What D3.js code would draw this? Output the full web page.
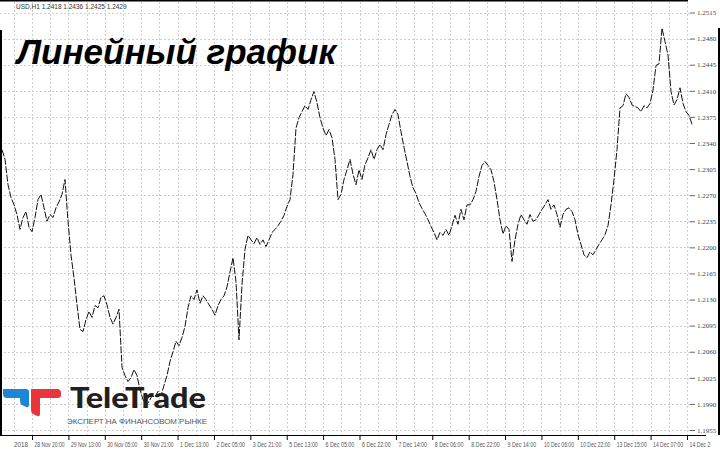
<!DOCTYPE html>
<html>
<head>
<meta charset="utf-8">
<script src="https://cdnjs.cloudflare.com/ajax/libs/d3/7.8.5/d3.min.js"></script>
<style>
	body { margin: 0; background: #fff; }
	svg { display: block; }
</style>
</head>
<body>
<div id="chart"></div>
<script>
// hourly closes left to right
var closes = [
	1.2331, 1.2318, 1.2284, 1.2267, 1.2257, 1.2244, 1.2224, 1.2240, 1.2248, 1.2227,
	1.2221, 1.2240, 1.2264, 1.2271, 1.2253, 1.2235, 1.2244, 1.2240, 1.2253, 1.2261,
	1.2271, 1.2291, 1.2235, 1.2190, 1.2159, 1.2123, 1.2090, 1.2087, 1.2103, 1.2114,
	1.2106, 1.2122, 1.2119, 1.2133, 1.2135, 1.2123, 1.2106, 1.2097, 1.2106, 1.2117,
	1.2039, 1.2028, 1.2020, 1.2025, 1.2036, 1.2028, 1.2009, 1.1996, 1.1989, 1.1993,
	1.2001, 1.1999, 1.2007, 1.2001, 1.2015, 1.2028, 1.2047, 1.2060, 1.2074, 1.2068,
	1.2079, 1.2094, 1.2119, 1.2135, 1.2130, 1.2143, 1.2125, 1.2135, 1.2130, 1.2123,
	1.2117, 1.2109, 1.2122, 1.2130, 1.2135, 1.2147, 1.2167, 1.2186, 1.2154, 1.2076,
	1.2150, 1.2197, 1.2216, 1.2210, 1.2205, 1.2213, 1.2204, 1.2210, 1.2201, 1.2210,
	1.2220, 1.2224, 1.2229, 1.2235, 1.2243, 1.2255, 1.2264, 1.2298, 1.2360, 1.2374,
	1.2382, 1.2390, 1.2385, 1.2398, 1.2409, 1.2394, 1.2374, 1.2360, 1.2350, 1.2358,
	1.2347, 1.2318, 1.2264, 1.2271, 1.2291, 1.2304, 1.2318, 1.2298, 1.2284, 1.2304,
	1.2291, 1.2311, 1.2320, 1.2331, 1.2318, 1.2331, 1.2338, 1.2331, 1.2351, 1.2365,
	1.2378, 1.2385, 1.2378, 1.2355, 1.2334, 1.2315, 1.2295, 1.2280, 1.2272, 1.2260,
	1.2252, 1.2245, 1.2237, 1.2228, 1.2220, 1.2210, 1.2220, 1.2216, 1.2224, 1.2216,
	1.2229, 1.2243, 1.2231, 1.2251, 1.2237, 1.2257, 1.2257, 1.2264, 1.2275, 1.2295,
	1.2310, 1.2315, 1.2310, 1.2304, 1.2288, 1.2264, 1.2237, 1.2218, 1.2229, 1.2224,
	1.2181, 1.2210, 1.2231, 1.2244, 1.2237, 1.2231, 1.2244, 1.2235, 1.2237, 1.2244,
	1.2251, 1.2257, 1.2264, 1.2251, 1.2257, 1.2244, 1.2227, 1.2244, 1.2251, 1.2253,
	1.2248, 1.2237, 1.2217, 1.2204, 1.2190, 1.2186, 1.2194, 1.2190, 1.2197, 1.2204,
	1.2210, 1.2217, 1.2229, 1.2257, 1.2291, 1.2331, 1.2387, 1.2390, 1.2406, 1.2401,
	1.2391, 1.2389, 1.2387, 1.2382, 1.2390, 1.2387, 1.2393, 1.2411, 1.2444, 1.2446,
	1.2494, 1.2476, 1.2458, 1.2409, 1.2391, 1.2398, 1.2414, 1.2393, 1.2382, 1.2377,
	1.2365
];

// price scale labels on the right
var priceTicks = [
	1.2515, 1.2480, 1.2445, 1.2410, 1.2375, 1.2340, 1.2305, 1.2270, 1.2235,
	1.2200, 1.2165, 1.2130, 1.2095, 1.2060, 1.2025, 1.1990, 1.1955
];

// time scale labels at the bottom
var timeLabels = [
	'28 Nov 20:00', '29 Nov 13:00', '30 Nov 05:00', '30 Nov 21:00', '1 Dec 13:00',
	'2 Dec 05:00', '3 Dec 21:00', '5 Dec 13:00', '6 Dec 05:00', '6 Dec 22:00',
	'7 Dec 14:00', '8 Dec 06:00', '8 Dec 22:00', '9 Dec 14:00', '10 Dec 06:00',
	'10 Dec 22:00', '13 Dec 15:00', '14 Dec 07:00', '14 Dec 2'
];

var firstDate = '2018';
var symbolInfo = 'USD,H1  1.2418 1.2436 1.2425 1.2429';
var title = 'Линейный график';
var brand = 'TeleTrade';
var slogan = 'ЭКСПЕРТ НА ФИНАНСОВОМ РЫНКЕ';

var width = 720;
var height = 450;
var svg; // d3.js component

var x = d3.scaleLinear().domain([0, closes.length - 1]).range([2, 692]);
var y = d3.scaleLinear().domain([1.1955, 1.2515]).range([430, 12.5]);
var t = d3.scaleLinear().domain([0, timeLabels.length - 1]).range([32, 687]);

init();

function init() {
	svg = d3.select('#chart')
		.append('svg')
		.attr('width', width)
		.attr('height', height)
		.style('font-family', 'Liberation Sans, Arial, sans-serif');

	svg.append('rect')
		.attr('width', width)
		.attr('height', height)
		.attr('fill', '#fff');

	drawGrid();
	drawFrame();
	drawAxes();
	drawLine();
	drawTitle();
	drawLogo();
}

function drawGrid() {
	var grid = svg.append('g')
		.attr('stroke', '#cfcfcf')
		.attr('stroke-width', 1)
		.style('stroke-dasharray', '2, 2');

	grid.selectAll('line.h')
		.data(priceTicks)
		.enter()
		.append('line')
		.attr('class', 'h')
		.attr('x1', 0)
		.attr('x2', 690)
		.attr('y1', function (d) { return Math.round(y(d)) + 0.5; })
		.attr('y2', function (d) { return Math.round(y(d)) + 0.5; });

	// a vertical line on each time label and one halfway between
	var halves = d3.range(-1, (timeLabels.length - 1) * 2 + 1).map(function (i) { return i / 2; });
	grid.selectAll('line.v')
		.data(halves)
		.enter()
		.append('line')
		.attr('class', 'v')
		.attr('x1', function (d) { return Math.round(t(d)) + 0.5; })
		.attr('x2', function (d) { return Math.round(t(d)) + 0.5; })
		.attr('y1', 2)
		.attr('y2', 435);
}

function drawFrame() {
	svg.append('line')
		.attr('x1', 0).attr('x2', 688)
		.attr('y1', 0.5).attr('y2', 0.5)
		.attr('stroke', '#000').attr('stroke-width', 2);

	svg.append('line')
		.attr('x1', 1).attr('x2', 1)
		.attr('y1', 30).attr('y2', 435)
		.attr('stroke', '#000').attr('stroke-width', 2);

	svg.append('line')
		.attr('x1', 719).attr('x2', 719)
		.attr('y1', 28).attr('y2', 435)
		.attr('stroke', '#000').attr('stroke-width', 2);

	svg.append('line')
		.attr('x1', 0).attr('x2', 706)
		.attr('y1', 435.5).attr('y2', 435.5)
		.attr('stroke', '#000').attr('stroke-width', 1);
}

function drawAxes() {
	var right = svg.append('g')
		.attr('transform', 'translate(690,0)')
		.call(d3.axisRight(y)
			.tickValues(priceTicks)
			.tickFormat(d3.format('.4f'))
			.tickSize(5)
			.tickPadding(2));
	right.select('.domain').remove();
	right.selectAll('text')
		.attr('fill', '#444')
		.style('font-size', '7px')
		.style('font-family', 'Liberation Serif, serif');
	right.selectAll('line').attr('stroke', '#666');

	var bottom = svg.append('g')
		.attr('transform', 'translate(0,435)')
		.call(d3.axisBottom(t)
			.tickValues(d3.range(timeLabels.length))
			.tickFormat(function (i) { return timeLabels[i]; })
			.tickSize(5)
			.tickPadding(2));
	bottom.select('.domain').remove();
	bottom.selectAll('text')
		.attr('text-anchor', 'start')
		.attr('dx', 2)
		.attr('fill', '#555')
		.attr('textLength', function (i) { return Math.min(30, timeLabels[i].length * 2.6); })
		.attr('lengthAdjust', 'spacingAndGlyphs')
		.style('font-size', '6.5px');
	bottom.selectAll('line').attr('stroke', '#000');

	svg.append('text')
		.attr('x', 14)
		.attr('y', 447)
		.attr('fill', '#555')
		.attr('textLength', 14)
		.attr('lengthAdjust', 'spacingAndGlyphs')
		.style('font-size', '6.5px')
		.text(firstDate);

	svg.append('text')
		.attr('x', 16)
		.attr('y', 9)
		.attr('fill', '#333')
		.style('font-size', '6.5px')
		.text(symbolInfo);
}

function drawLine() {
	var line = d3.line()
		.x(function (d, i) { return x(i); })
		.y(function (d) { return y(d); });

	// the line in the picture looks broken up, so a long dash with short gaps
	svg.append('path')
		.datum(closes)
		.attr('d', line)
		.attr('fill', 'none')
		.attr('stroke', '#111')
		.attr('stroke-width', 1)
		.style('stroke-dasharray', '7, 1.5');
}

function drawTitle() {
	svg.append('text')
		.attr('x', 17)
		.attr('y', 64)
		.attr('fill', '#000')
		.style('font-size', '35px')
		.style('font-weight', 'bold')
		.style('font-style', 'italic')
		.text(title);
}

function drawLogo() {
	var logo = svg.append('g');

	logo.append('path')
		.attr('d', 'M3,389 L26,389 Q29,389 29,392 L29,405 Q29,408 26,407 L22,405 Q20,404 20,401 L20,398 L7,398 Q3,398 3,394 Z')
		.attr('fill', '#1f86d6');

	logo.append('path')
		.attr('d', 'M31,389 L57,389 Q61,389 61,393 L61,395 Q61,398 58,398 L40,398 L40,414 Q40,417 37,416 L33,414 Q31,413 31,410 Z')
		.attr('fill', '#e8363c');

	logo.append('text')
		.attr('x', 70)
		.attr('y', 408)
		.attr('fill', '#231f20')
		.attr('textLength', 136)
		.attr('lengthAdjust', 'spacingAndGlyphs')
		.style('font-family', 'Lato, sans-serif')
		.style('font-size', '29px')
		.style('font-weight', '900')
		.text(brand);

	logo.append('text')
		.attr('x', 67)
		.attr('y', 424)
		.attr('fill', '#555')
		.attr('textLength', 140)
		.attr('lengthAdjust', 'spacingAndGlyphs')
		.style('font-size', '6.5px')
		.text(slogan);
}
</script>
</body>
</html>
